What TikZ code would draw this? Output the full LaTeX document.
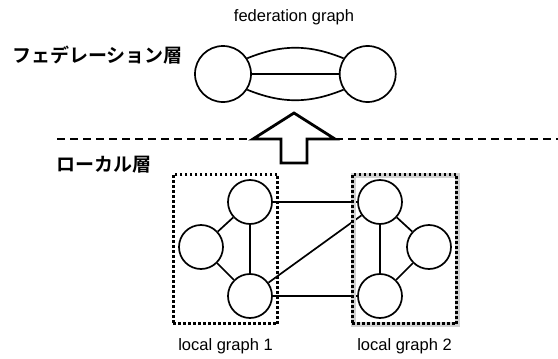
\documentclass[tikz,border=0pt]{standalone}
\usepackage{fontspec}
\setmainfont{Liberation Sans}
\newfontfamily\jpfont{Noto Sans CJK JP}[BoldFont={* Bold}]
\usetikzlibrary{positioning, fit}

\begin{document}
\begin{tikzpicture}[
    x=1pt, y=-1pt,
    vertex/.style={circle, draw, line width=1.7pt, minimum size=44pt, inner sep=0pt},
    fedvertex/.style={vertex, minimum size=56pt},
    link/.style={draw, line width=1.7pt},
    layer/.style={font=\jpfont\bfseries\fontsize{19}{22}\selectfont, anchor=west, inner sep=0pt},
    caption/.style={font=\fontsize{16.5}{18}\selectfont, inner sep=0pt},
    group/.style={draw, line width=3pt, dash pattern=on 2.6pt off 2.4pt, inner sep=5pt},
    divider/.style={draw, line width=2.6pt, dash pattern=on 8pt off 5pt}
]
    \useasboundingbox (0,0) rectangle (558,359);

    % federation layer
    \node[fedvertex] (fed1) at (223,74) {};
    \node[fedvertex, right=87pt of fed1] (fed2) {};
    \node[caption] (fedcap) at (294,17) {federation graph};
    \node[layer] (fedlayer) at (12,55) {フェデレーション層};

    \draw[link] (fed1) -- (fed2);
    \draw[link] (fed1.33) to[out=22, in=158] (fed2.147);
    \draw[link] (fed1.-33) to[out=-22, in=-158] (fed2.-147);

    % divider and arrow
    \coordinate (divl) at (57,139);
    \coordinate (divr) at (558,139);
    \coordinate (headl) at (253,139);
    \coordinate (headr) at (335,139);
    \draw[divider] (divl) -- (headl);
    \draw[divider] (headr) -- (divr);
    \draw[line width=2.8pt, line join=miter, fill=white]
        (294,113) -- (headr) -- (307,139) -- (307,163) -- (281,163) -- (281,139) -- (headl) -- cycle;

    \node[layer] (locallayer) at (56,165) {ローカル層};

    % local graph 1
    \node[vertex] (a1) at (250,202) {};
    \node[vertex] (a2) at (201,247) {};
    \node[vertex] (a3) at (250,296) {};
    \draw[link] (a1) -- (a2);
    \draw[link] (a2) -- (a3);
    \draw[link] (a1) -- (a3);

    % local graph 2
    \node[vertex] (b1) at (380,202) {};
    \node[vertex] (b2) at (429,247) {};
    \node[vertex] (b3) at (380,296) {};
    \draw[link] (b1) -- (b2);
    \draw[link] (b2) -- (b3);
    \draw[link] (b1) -- (b3);

    % links between the local graphs
    \draw[link] (a1) -- (b1);
    \draw[link] (a3) -- (b3);
    \draw[link] (a3) -- (b1);

    \node[group, fit=(a1)(a2)(a3)] (box1) {};
    \node[group, draw=black!18, line width=5pt, solid, xshift=1pt, yshift=-1pt, fit=(b1)(b2)(b3)] (shade2) {};
    \node[group, fit=(b1)(b2)(b3)] (box2) {};

    \node[caption, below=13pt of box1] (cap1) {local graph 1};
    \node[caption, below=13pt of box2] (cap2) {local graph 2};
\end{tikzpicture}
\end{document}
